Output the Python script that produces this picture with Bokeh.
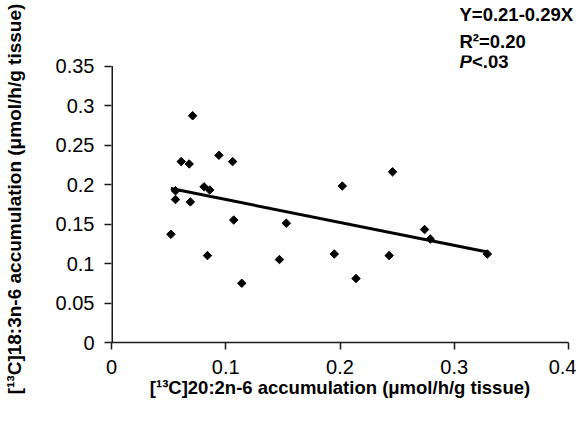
from bokeh.plotting import figure
from bokeh.models import Range1d, Label, FixedTicker, Title
from bokeh.embed import file_html
from bokeh.resources import INLINE
import math

# data
x_vals = [0.071, 0.061, 0.068, 0.094, 0.106, 0.081, 0.086, 0.056, 0.056, 0.069,
          0.052, 0.107, 0.153, 0.084, 0.147, 0.114, 0.246, 0.202, 0.274, 0.279,
          0.195, 0.243, 0.214, 0.329]
y_vals = [0.287, 0.229, 0.226, 0.237, 0.229, 0.197, 0.193, 0.192, 0.181, 0.178,
          0.137, 0.155, 0.151, 0.110, 0.105, 0.075, 0.216, 0.198, 0.143, 0.131,
          0.112, 0.110, 0.081, 0.112]
fit_intercept = 0.21
fit_slope = -0.29
x_ticks = [0, 0.1, 0.2, 0.3, 0.4]
y_ticks = [0, 0.05, 0.1, 0.15, 0.2, 0.25, 0.3, 0.35]
eq_lines = ["Y=0.21-0.29X", "R\u00b2=0.20"]
p_text = ["P", "<.03"]

FONT = "Liberation Sans"
INK = "#1a1a1a"
Y_END = 0.3633

# y frame reaches a little above 0.35 so the P-line fits inside it
p = figure(width=576, height=417, output_backend="svg", toolbar_location=None,
           x_range=Range1d(0, 0.4), y_range=Range1d(0, Y_END),
           min_border_left=111, min_border_right=8, min_border_top=55,
           min_border_bottom=75)
p.outline_line_color = None
p.grid.grid_line_color = None
p.background_fill_color = "white"
p.border_fill_color = "white"
p.title.text = ""

for ax in (p.xaxis[0], p.yaxis[0]):
    ax.axis_line_color = INK
    ax.axis_line_width = 1.5
    ax.major_tick_line_color = INK
    ax.major_tick_line_width = 1.5
    ax.major_tick_out = 7
    ax.major_tick_in = 0
    ax.minor_tick_line_color = None
    ax.major_label_text_font = FONT
    ax.major_label_text_font_size = "20px"
    ax.major_label_text_color = "black"
    ax.axis_label_text_font = FONT
    ax.axis_label_text_font_style = "bold"
    ax.axis_label_text_color = "black"
p.xaxis.axis_label_text_font_size = "18.5px"
p.yaxis.axis_label_text_font_size = "19px"
p.yaxis.axis_line_color = None

p.xaxis.ticker = FixedTicker(ticks=x_ticks)
p.yaxis.ticker = FixedTicker(ticks=y_ticks)
p.xaxis.major_label_overrides = {t: ("0" if t == 0 else f"{t:g}") for t in x_ticks}
p.yaxis.major_label_overrides = {t: ("0" if t == 0 else f"{t:g}") for t in y_ticks}
p.xaxis.major_label_standoff = 10
p.yaxis.major_label_standoff = 10
p.xaxis.axis_label = "[\u00b9\u00b3C]20:2n-6 accumulation (\u03bcmol/h/g tissue)"
p.yaxis.axis_label = "[\u00b9\u00b3C]18:3n-6 accumulation (\u03bcmol/h/g tissue)"
p.xaxis.axis_label_standoff = 0
p.yaxis.axis_label_standoff = 28

# y axis line only over the ticked span
p.segment(x0=[0], y0=[0], x1=[0], y1=[max(y_ticks)], line_color=INK, line_width=3)

# regression line
x0, x1 = min(x_vals), max(x_vals)
p.line([x0, x1], [fit_intercept + fit_slope * x0, fit_intercept + fit_slope * x1],
       line_color="black", line_width=3)

# points
p.scatter(x_vals, y_vals, marker="square", size=6, angle=math.pi / 4,
          fill_color="black", line_color="black")

# equation text: first two lines above the frame, P-line inside it
TX = 348  # px from frame left
p.add_layout(Title(text=eq_lines[1], align="left", offset=TX, standoff=8,
                   vertical_align="bottom", text_font=FONT, text_font_size="18.5px",
                   text_font_style="bold", text_color="black"), "above")
p.add_layout(Title(text=eq_lines[0], align="left", offset=TX, standoff=0,
                   vertical_align="bottom", text_font=FONT, text_font_size="18.5px",
                   text_font_style="bold", text_color="black"), "above")
px = 0.4 * TX / 457.0
py = Y_END - (61 - 55) / 790.0
p.add_layout(Label(x=px, y=py, text=p_text[0], text_font=FONT,
                   text_font_size="18.5px", text_font_style="bold italic",
                   text_color="black", text_baseline="middle"))
p.add_layout(Label(x=px, y=py, x_offset=12.5, text=p_text[1],
                   text_font=FONT, text_font_size="18.5px", text_font_style="bold",
                   text_color="black", text_baseline="middle"))

open("out.html", "w").write(file_html(p, INLINE))
